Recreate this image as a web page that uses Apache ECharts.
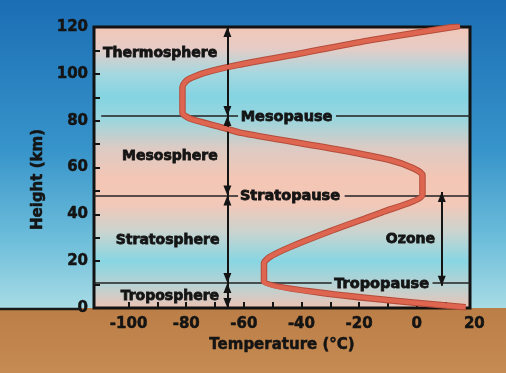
<!DOCTYPE html>
<html><head><meta charset="utf-8">
<script src="https://cdn.jsdelivr.net/npm/echarts@6/dist/echarts.min.js"></script>
<style>html,body{margin:0;padding:0;overflow:hidden;}#c{width:506px;height:373px;}</style>
</head><body><div id="c"></div>
<script>
// Temperature profile of the atmosphere
const curveTemp   = [17, -53, -53, -51, -44, -29, -11.8, 2, 2, -1.4, -9.3, -26.6, -61, -67, -78.5, -81.3, -81.3, -79.6, -74, -62, -39.4, -16, 12.5, 15];
const curveHeight = [0.3, 11, 19.2, 21.8, 26, 33.3, 41, 48.3, 56.8, 59.8, 63.2, 67.5, 74.8, 76.9, 80.8, 83.3, 94.4, 97.4, 100.3, 103.8, 108.9, 114.4, 120, 120.5];

const layerNames   = ['Thermosphere', 'Mesosphere', 'Stratosphere', 'Troposphere', 'Ozone'];
const layerTemps   = [-88.9, -85.5, -86.3, -85.5, -2];
const layerHeights = [109.3, 65.3, 29.4, 5.5, 29.9];

const pauseNames      = ['Mesopause', 'Stratopause', 'Tropopause'];
const pauseHeights    = [82, 48, 10.7];
const pauseLabelTemps = [-45, -43.8, -12];
const pauseLineStart  = [-109.5, -112, -112];
const pauseGapFrom    = [-62, -62, -29.5];
const pauseGapTo      = [-28, -25, 5.5];

const arrowTemp   = -65.7;
const arrowBounds = [120, 82, 48, 10.7, 0];
const ozoneTemp   = 8.7;
const ozoneSpan   = [49.5, 9.5];

const xTickValues  = [-100, -90, -80, -70, -60, -50, -40, -30, -20, -10, 0, 10];
const xLabelValues = [-100, -80, -60, -40, -20, 0, 20];
const yTickValues  = [0, 10, 20, 30, 40, 50, 60, 70, 80, 90, 100, 110, 120];
const yLabelValues = [0, 20, 40, 60, 80, 100, 120];
const xMin = -112, xMax = 18.5, yMin = 0, yMax = 120;

const FONT = 'DejaVu Sans';
const INK = '#141414';
const chart = echarts.init(document.getElementById('c'), null, {renderer: 'canvas'});

const curveData = curveTemp.map((t, i) => [t, curveHeight[i]]);
const pauseSegs = [];
pauseHeights.forEach((h, i) => {
  pauseSegs.push({coords: [[pauseLineStart[i], h], [pauseGapFrom[i], h]]});
  pauseSegs.push({coords: [[pauseGapTo[i], h], [xMax, h]]});
});
const arrowLines = [];
for (let i = 0; i < arrowBounds.length - 1; i++) {
  arrowLines.push([{coord: [arrowTemp, arrowBounds[i]]}, {coord: [arrowTemp, arrowBounds[i + 1]]}]);
}
arrowLines.push([{coord: [ozoneTemp, ozoneSpan[0]]}, {coord: [ozoneTemp, ozoneSpan[1]]}]);

const labelFont = {fontFamily: FONT, fontWeight: 'bold', color: INK, textBorderColor: INK, textBorderWidth: 0.8, align: 'center', verticalAlign: 'middle', position: [0, 0], offset: [0, 1.5], opacity: 1};
const axisText = {fontFamily: FONT, fontWeight: 'bold', fontSize: 15, color: INK, textBorderColor: INK, textBorderWidth: 0.5};
const hiddenItem = {color: 'rgba(0,0,0,0)', opacity: 1};

const option = {
  animation: false,
  backgroundColor: new echarts.graphic.LinearGradient(0, 0, 0, 1, [
    {offset: 0, color: '#1b6db4'},
    {offset: 0.4, color: '#3794ca'},
    {offset: 0.65, color: '#6fbfdb'},
    {offset: 0.826, color: '#a8dbe5'},
    {offset: 0.827, color: '#bb7e46'},
    {offset: 1, color: '#c58b53'}
  ]),
  grid: {
    left: 94, top: 27, width: 376, height: 281,
    show: true, borderColor: '#121212', borderWidth: 3,
    backgroundColor: new echarts.graphic.LinearGradient(0, 0, 0, 1, [
      {offset: 0, color: '#f2c6b6'},
      {offset: 0.08, color: '#e6ccc6'},
      {offset: 0.17, color: '#a4d8e0'},
      {offset: 0.25, color: '#84d4e2'},
      {offset: 0.33, color: '#9ad6de'},
      {offset: 0.43, color: '#dccbc4'},
      {offset: 0.54, color: '#f4c6b4'},
      {offset: 0.63, color: '#f2c8b8'},
      {offset: 0.73, color: '#c8d4d0'},
      {offset: 0.83, color: '#88d6e2'},
      {offset: 0.92, color: '#bcd2d2'},
      {offset: 1, color: '#f0c2b2'}
    ])
  },
  xAxis: {
    type: 'value', min: xMin, max: xMax,
    name: 'Temperature (°C)', nameLocation: 'middle', nameGap: 28,
    nameTextStyle: axisText,
    axisLine: {show: false, onZero: false},
    axisTick: {show: true, inside: true, length: 6, customValues: xTickValues, lineStyle: {color: INK, width: 2}},
    axisLabel: Object.assign({show: true, customValues: xLabelValues, margin: 9}, axisText),
    splitLine: {show: false}
  },
  yAxis: {
    type: 'value', min: yMin, max: yMax,
    name: 'Height (km)', nameLocation: 'middle', nameGap: 44, nameRotate: 90,
    nameTextStyle: Object.assign({padding: [0, 24, 0, 0]}, axisText),
    axisLine: {show: false, onZero: false},
    axisTick: {show: true, inside: true, length: 6, customValues: yTickValues, lineStyle: {color: INK, width: 2}},
    axisLabel: Object.assign({show: true, customValues: yLabelValues, margin: 6}, axisText),
    splitLine: {show: false}
  },
  graphic: [
    {type: 'line', shape: {x1: 0, y1: 309, x2: 80, y2: 309}, style: {stroke: '#1a1a1a', lineWidth: 2.5}, z: 1}
  ],
  series: [
    {
      type: 'lines', coordinateSystem: 'cartesian2d', silent: true, z: 3,
      lineStyle: {color: '#222', width: 1.5, opacity: 1},
      data: pauseSegs,
      markLine: {
        silent: true, symbol: ['triangle', 'triangle'], symbolSize: [8, 10],
        symbolOffset: [[0, 5], [0, 5]],
        lineStyle: {color: '#141414', width: 2, type: 'solid'},
        label: {show: false}, data: arrowLines
      }
    },
    {
      type: 'line', data: curveData, smooth: 0.2, showSymbol: false, silent: true, z: 4,
      lineStyle: {color: '#b44c3a', width: 6.5}
    },
    {
      type: 'line', data: curveData, smooth: 0.2, showSymbol: false, silent: true, z: 5,
      lineStyle: {color: '#de6650', width: 4.5}
    },
    {
      type: 'scatter', symbolSize: 1, silent: true, z: 6, itemStyle: hiddenItem,
      data: layerNames.map((n, i) => ({name: n, value: [layerTemps[i], layerHeights[i]]})),
      label: Object.assign({show: true, formatter: '{b}', fontSize: 14}, labelFont)
    },
    {
      type: 'scatter', symbolSize: 1, silent: true, z: 6, itemStyle: hiddenItem,
      data: pauseNames.map((n, i) => ({name: n, value: [pauseLabelTemps[i], pauseHeights[i]]})),
      label: Object.assign({show: true, formatter: '{b}', fontSize: 14.5}, labelFont)
    }
  ]
};
chart.setOption(option);

// tick label just beyond the plotted range (the "20" sits at the box edge)
const extra = xLabelValues.filter(v => v > xMax);
const g = option.graphic.slice();
extra.forEach(v => {
  const p = chart.convertToPixel({gridIndex: 0}, [v, yMin]);
  g.push({type: 'text', x: p[0], y: p[1] + 9, z: 10,
    style: {text: String(v), fill: INK, stroke: INK, lineWidth: 0.5, font: 'bold 15px "DejaVu Sans"', textAlign: 'center', textVerticalAlign: 'top'}});
});
chart.setOption({graphic: g});
</script>
</body></html>
